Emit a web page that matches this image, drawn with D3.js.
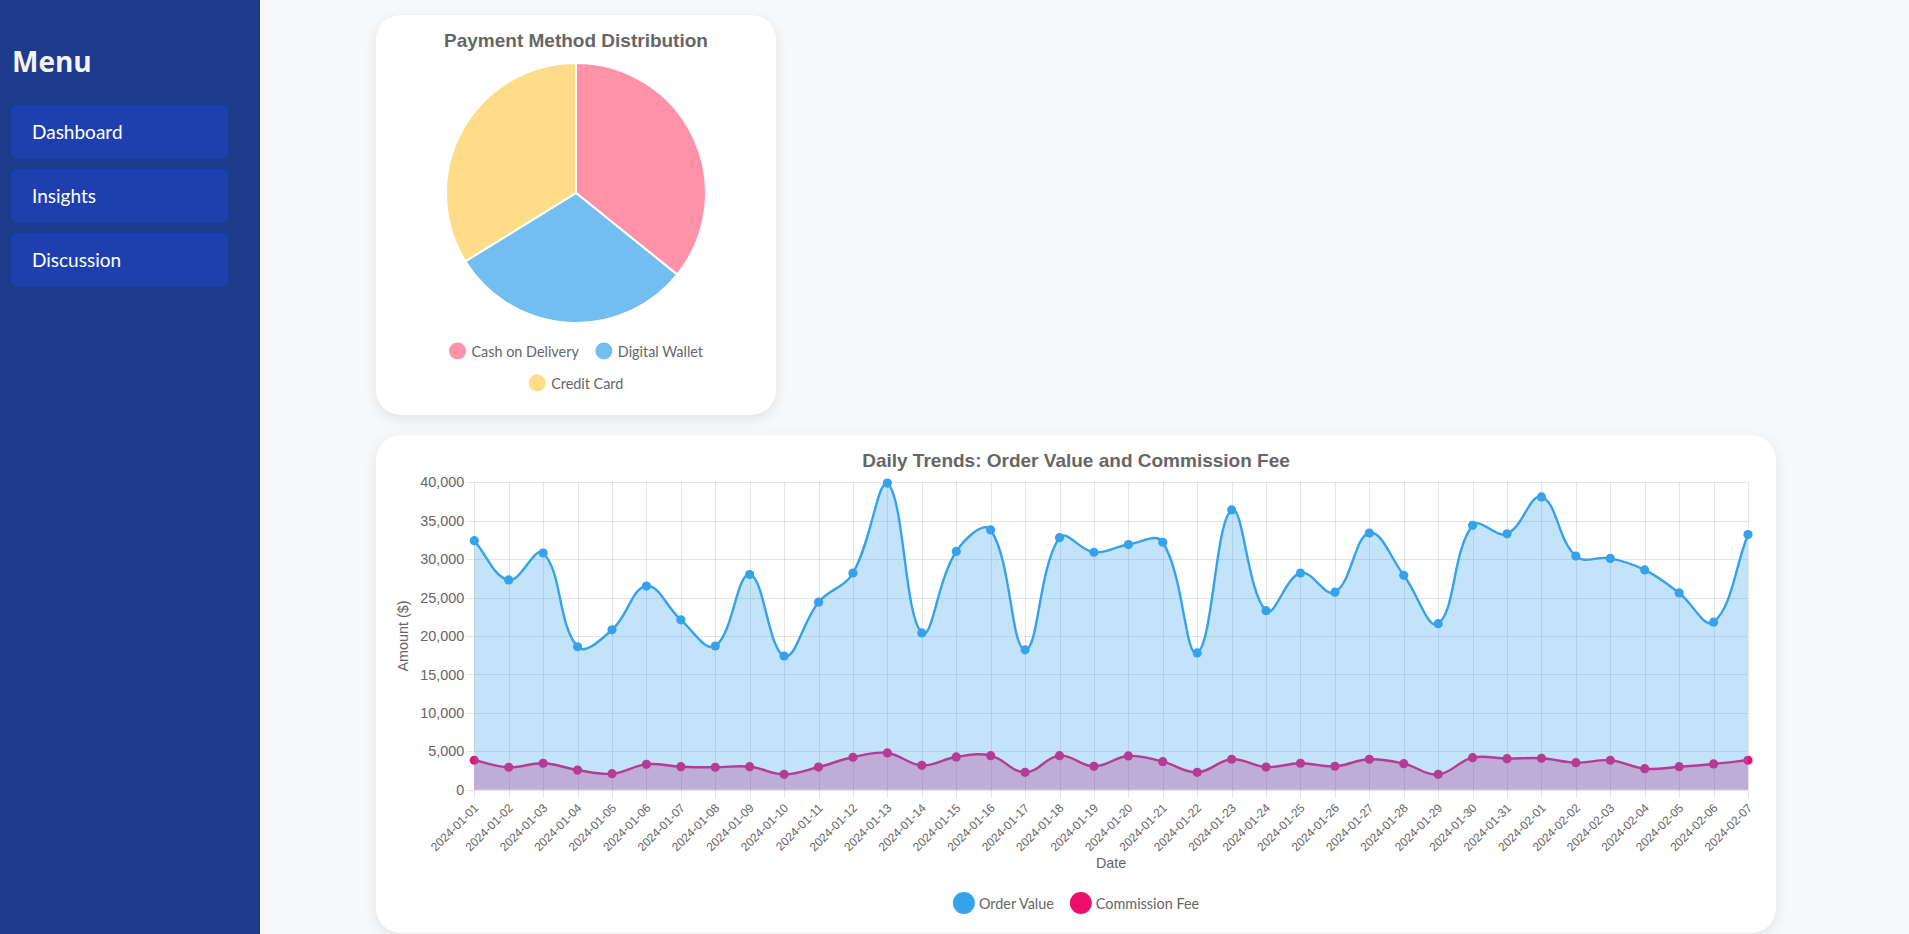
<!DOCTYPE html>
<html>
<head>
<meta charset="utf-8">
<script src="https://cdn.jsdelivr.net/npm/d3@7"></script>
<style>
  html, body { margin: 0; padding: 0; width: 1909px; height: 934px; overflow: hidden; background: #f7f8fa; }
  .sidebar { position: absolute; left: 0; top: 0; width: 260px; height: 934px; background: #1e3a8a; }
  .sidebar .title { position: absolute; left: 12px; top: 47px; font: 700 28px/28px "Open Sans", sans-serif; color: #f3f4f6; }
  .sidebar .btn { position: absolute; left: 11px; width: 196px; height: 54px; padding-left: 21px; border-radius: 5px;
                  background: #1e40af; color: #fff; font: 400 19px/54px Lato, sans-serif; }
  .card { position: absolute; background: #fff; border-radius: 25px; box-shadow: 0 4px 14px rgba(0,0,0,0.09); overflow: hidden; }
  .card svg { position: absolute; left: 0; top: 0; }
</style>
</head>
<body>
<div class="sidebar">
  <div class="title">Menu</div>
  <div class="btn" style="top:105px">Dashboard</div>
  <div class="btn" style="top:169px">Insights</div>
  <div class="btn" style="top:233px">Discussion</div>
</div>
<div class="card" id="pie_card" style="left:376px; top:15px; width:400px; height:400px;"></div>
<div class="card" id="line_card" style="left:376px; top:435px; width:1400px; height:498px;"></div>

<script>
// ---- data ----
var paymentLabels = ['Cash on Delivery', 'Digital Wallet', 'Credit Card'];
var paymentCounts = [358, 304, 338];

var dates = [
  '2024-01-01', '2024-01-02', '2024-01-03', '2024-01-04', '2024-01-05', '2024-01-06', '2024-01-07',
  '2024-01-08', '2024-01-09', '2024-01-10', '2024-01-11', '2024-01-12', '2024-01-13', '2024-01-14',
  '2024-01-15', '2024-01-16', '2024-01-17', '2024-01-18', '2024-01-19', '2024-01-20', '2024-01-21',
  '2024-01-22', '2024-01-23', '2024-01-24', '2024-01-25', '2024-01-26', '2024-01-27', '2024-01-28',
  '2024-01-29', '2024-01-30', '2024-01-31', '2024-02-01', '2024-02-02', '2024-02-03', '2024-02-04',
  '2024-02-05', '2024-02-06', '2024-02-07'
];
var orderValue = [
  32400, 27300, 30800, 18600, 20800, 26500, 22100, 18700, 28000, 17400,
  24400, 28200, 39900, 20400, 31000, 33800, 18200, 32800, 30900, 31900,
  32200, 17800, 36400, 23300, 28200, 25700, 33400, 27900, 21600, 34400,
  33300, 38100, 30400, 30100, 28600, 25600, 21800, 33200
];
var commissionFee = [
  3830, 2920, 3440, 2560, 2080, 3300, 2990, 2920, 3000, 2000,
  2950, 4220, 4780, 3170, 4260, 4430, 2260, 4430, 3040, 4390,
  3650, 2260, 3960, 2950, 3440, 3050, 3960, 3390, 2000, 4170,
  4040, 4090, 3520, 3830, 2730, 2990, 3350, 3830
];
var yTicks = [0, 5000, 10000, 15000, 20000, 25000, 30000, 35000, 40000];

// ---- styling ----
var PIE_COLORS = ['rgba(255,99,132,0.7)', 'rgba(54,162,235,0.7)', 'rgba(255,206,86,0.7)'];
var BLUE = 'rgb(54,162,235)';
var PINK = 'rgb(236,16,108)';
var GRID = 'rgba(0,0,0,0.1)';
var TEXT = '#666';
var CHART_FONT = '"Liberation Sans", Arial, sans-serif';
var LEGEND_FONT = 'Lato, sans-serif';

// Lay out legend items in wrapped, centred rows (Chart.js style).
function drawLegend(svg, items, opts) {
  var g = svg.append('g').attr('class', 'legend');
  var widths = items.map(function (it) {
    var t = g.append('text').attr('font-family', LEGEND_FONT).attr('font-size', opts.fontSize).text(it.label);
    var w = t.node().getComputedTextLength();
    t.remove();
    return opts.r * 2 + opts.textGap + w;
  });
  var rows = [[]], rowW = [0];
  items.forEach(function (it, i) {
    var cur = rows.length - 1;
    var add = (rows[cur].length ? opts.itemGap : 0) + widths[i];
    if (rows[cur].length && rowW[cur] + add > opts.maxWidth) {
      rows.push([]); rowW.push(0); cur++; add = widths[i];
    }
    rows[cur].push(i); rowW[cur] += add;
  });
  rows.forEach(function (row, ri) {
    var x = opts.cx - rowW[ri] / 2;
    var y = opts.y + ri * opts.rowH;
    row.forEach(function (i) {
      g.append('circle').attr('cx', x + opts.r).attr('cy', y).attr('r', opts.r).attr('fill', items[i].color);
      g.append('text')
        .attr('x', x + opts.r * 2 + opts.textGap).attr('y', y)
        .attr('dominant-baseline', 'central')
        .attr('font-family', LEGEND_FONT).attr('font-size', opts.fontSize).attr('fill', TEXT)
        .text(items[i].label);
      x += widths[i] + opts.itemGap;
    });
  });
}

// Chart.js-style cubic spline (tension, distance weighted, control points capped to the area).
function splinePath(pts, tension, area, ctx) {
  var cap = function (v, lo, hi) { return Math.max(lo, Math.min(hi, v)); };
  var cps = pts.map(function (p, i) {
    var prev = pts[i - 1] || p, next = pts[i + 1] || p;
    var d01 = Math.hypot(p[0] - prev[0], p[1] - prev[1]);
    var d12 = Math.hypot(next[0] - p[0], next[1] - p[1]);
    var s01 = d01 / (d01 + d12), s12 = d12 / (d01 + d12);
    if (!isFinite(s01)) s01 = 0;
    if (!isFinite(s12)) s12 = 0;
    var fa = tension * s01, fb = tension * s12;
    return {
      c1: [cap(p[0] - fa * (next[0] - prev[0]), area.x0, area.x1), cap(p[1] - fa * (next[1] - prev[1]), area.y0, area.y1)],
      c2: [cap(p[0] + fb * (next[0] - prev[0]), area.x0, area.x1), cap(p[1] + fb * (next[1] - prev[1]), area.y0, area.y1)]
    };
  });
  ctx.moveTo(pts[0][0], pts[0][1]);
  for (var i = 1; i < pts.length; i++) {
    ctx.bezierCurveTo(cps[i - 1].c2[0], cps[i - 1].c2[1], cps[i].c1[0], cps[i].c1[1], pts[i][0], pts[i][1]);
  }
  return ctx;
}

// ---------------- pie chart ----------------
(function () {
  var W = 400, H = 400;
  var svg = d3.select('#pie_card').append('svg').attr('width', W).attr('height', H);

  svg.append('text')
    .attr('x', W / 2).attr('y', 32)
    .attr('text-anchor', 'middle')
    .attr('font-family', CHART_FONT).attr('font-weight', 'bold').attr('font-size', 19)
    .attr('fill', TEXT)
    .text('Payment Method Distribution');

  var pie = d3.pie().sort(null).value(function (d) { return d; });
  var arc = d3.arc().innerRadius(0).outerRadius(130);
  svg.append('g')
    .attr('transform', 'translate(200,178)')
    .selectAll('path')
    .data(pie(paymentCounts))
    .join('path')
      .attr('d', arc)
      .attr('fill', function (d, i) { return PIE_COLORS[i]; })
      .attr('stroke', '#fff')
      .attr('stroke-width', 2);

  drawLegend(svg, paymentLabels.map(function (l, i) { return { label: l, color: PIE_COLORS[i] }; }), {
    cx: W / 2, y: 336, rowH: 32, r: 8.5, textGap: 5.5, itemGap: 16.5, fontSize: 14.4, maxWidth: 300
  });
})();

// ---------------- line chart ----------------
(function () {
  var W = 1400, H = 498;
  var plot = { x0: 98.3, x1: 1372, y0: 47.3, y1: 354.7 };
  var svg = d3.select('#line_card').append('svg').attr('width', W).attr('height', H);

  var x = d3.scalePoint().domain(dates).range([plot.x0, plot.x1]);
  var y = d3.scaleLinear().domain([0, 40000]).range([plot.y1, plot.y0]);

  svg.append('text')
    .attr('x', W / 2).attr('y', 32)
    .attr('text-anchor', 'middle')
    .attr('font-family', CHART_FONT).attr('font-weight', 'bold').attr('font-size', 19)
    .attr('fill', TEXT)
    .text('Daily Trends: Order Value and Commission Fee');

  // grid lines with 8px tick marks outside the plot
  var grid = svg.append('g').attr('stroke', GRID).attr('stroke-width', 1);
  grid.selectAll('line.h').data(yTicks).join('line').attr('class', 'h')
    .attr('x1', plot.x0 - 8).attr('x2', plot.x1)
    .attr('y1', function (d) { return Math.round(y(d)) + 0.5; })
    .attr('y2', function (d) { return Math.round(y(d)) + 0.5; });
  grid.selectAll('line.v').data(dates).join('line').attr('class', 'v')
    .attr('x1', function (d) { return Math.round(x(d)) + 0.5; })
    .attr('x2', function (d) { return Math.round(x(d)) + 0.5; })
    .attr('y1', plot.y0).attr('y2', plot.y1 + 8);

  // axes (labels only; grid drawn above)
  var yAxis = svg.append('g')
    .attr('transform', 'translate(' + plot.x0 + ',0)')
    .call(d3.axisLeft(y).tickValues(yTicks).tickSize(0).tickPadding(10).tickFormat(d3.format(',')));
  yAxis.select('.domain').remove();
  yAxis.selectAll('text').attr('font-family', CHART_FONT).attr('font-size', 14.4).attr('fill', TEXT);

  var xAxis = svg.append('g')
    .attr('transform', 'translate(0,' + plot.y1 + ')')
    .call(d3.axisBottom(x).tickSize(0));
  xAxis.select('.domain').remove();
  xAxis.selectAll('text')
    .attr('x', 0).attr('y', 0).attr('dy', '0.35em')
    .attr('transform', 'translate(1.5,16) rotate(-45)')
    .style('text-anchor', 'end')
    .attr('font-family', CHART_FONT).attr('font-size', 12).attr('fill', TEXT);

  svg.append('text')
    .attr('x', (plot.x0 + plot.x1) / 2).attr('y', 433)
    .attr('text-anchor', 'middle')
    .attr('font-family', CHART_FONT).attr('font-size', 14.4).attr('fill', TEXT)
    .text('Date');

  svg.append('text')
    .attr('transform', 'translate(31.5,' + ((plot.y0 + plot.y1) / 2) + ') rotate(-90)')
    .attr('text-anchor', 'middle')
    .attr('font-family', CHART_FONT).attr('font-size', 14.4).attr('fill', TEXT)
    .text('Amount ($)');

  // datasets drawn last-to-first, so the order-value fill tints the commission series
  function drawSeries(values, color, fill) {
    var pts = values.map(function (v, i) { return [x(dates[i]), y(v)]; });
    var g = svg.append('g');
    var area = splinePath(pts, 0.4, plot, d3.path());
    area.lineTo(pts[pts.length - 1][0], y(0));
    area.lineTo(pts[0][0], y(0));
    area.closePath();
    g.append('path').attr('d', area.toString()).attr('fill', fill);
    g.append('path').attr('d', splinePath(pts, 0.4, plot, d3.path()).toString())
      .attr('fill', 'none').attr('stroke', color).attr('stroke-width', 2.4);
    g.selectAll('circle').data(pts).join('circle')
      .attr('cx', function (d) { return d[0]; })
      .attr('cy', function (d) { return d[1]; })
      .attr('r', 4.6)
      .attr('fill', color);
  }
  drawSeries(commissionFee, PINK, 'rgba(236,16,108,0.32)');
  drawSeries(orderValue, BLUE, 'rgba(54,162,235,0.3)');

  drawLegend(svg, [
    { label: 'Order Value', color: BLUE },
    { label: 'Commission Fee', color: PINK }
  ], { cx: W / 2, y: 468, rowH: 32, r: 11, textGap: 4, itemGap: 16, fontSize: 14.4, maxWidth: 1300 });
})();
</script>
</body>
</html>
